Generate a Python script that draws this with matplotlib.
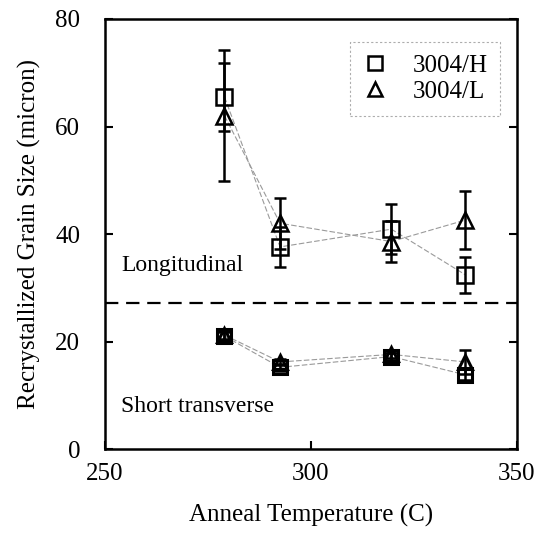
import matplotlib.pyplot as plt
import numpy as np

plt.rcParams['font.family'] = ['Liberation Serif', 'DejaVu Serif']

# anneal temperatures (C)
temps = [279, 292.5, 319.5, 337.5]

# longitudinal grain size
long_h = [65.5, 37.6, 40.9, 32.4]
long_h_err = [6.3, 3.7, 4.7, 3.3]
long_l = [62.0, 42.0, 38.6, 42.6]
long_l_err = [12.2, 4.7, 3.8, 5.4]

# short transverse grain size
short_h = [21.0, 15.2, 17.2, 13.8]
short_h_err = [0.8, 0.6, 0.6, 1.0]
short_l = [21.2, 16.2, 17.6, 16.2]
short_l_err = [0.8, 0.6, 0.6, 2.2]

divider = 27.2

fig = plt.figure(figsize=(5.51, 5.35), dpi=100)
ax = fig.add_axes([0.1906, 0.1607, 0.7476, 0.8038])

line_kw = dict(color='#9a9a9a', lw=0.8, ls=(0, (5, 2)))
err_kw = dict(fmt='none', ecolor='black', elinewidth=1.8, capsize=4, capthick=1.8)

for ys, es in [(long_h, long_h_err), (long_l, long_l_err),
               (short_h, short_h_err), (short_l, short_l_err)]:
    ax.plot(temps, ys, **line_kw, zorder=1)
    ax.errorbar(temps, ys, yerr=es, **err_kw, zorder=2)

sq_kw = dict(marker='s', ms=12, mfc='none', mec='black', mew=1.8, ls='none', zorder=3)
tr_kw = dict(marker='^', ms=12, mfc='none', mec='black', mew=1.8, ls='none', zorder=3)
ax.plot(temps, long_h, **sq_kw, label='3004/H')
ax.plot(temps, long_l, **tr_kw, label='3004/L')
ax.plot(temps, short_h, **dict(sq_kw, ms=10, mew=2.2))
ax.plot(temps, short_l, **dict(tr_kw, ms=10, mew=2.2))

ax.axhline(divider, color='black', lw=1.6, ls=(0, (6, 3.5)), zorder=0)

ax.text(254, 34.2, 'Longitudinal', fontsize=17, va='center', ha='left')
ax.text(254, 8.0, 'Short transverse', fontsize=17, va='center', ha='left')

ax.set_xlim(250, 350)
ax.set_ylim(0, 80)
ax.set_xticks([250, 300, 350])
ax.set_yticks([0, 20, 40, 60, 80])
ax.tick_params(direction='in', length=6, width=1.5, labelsize=18,
               right=True, top=False)
ax.tick_params(axis='y', pad=18)
ax.tick_params(axis='x', pad=10)
for s in ax.spines.values():
    s.set_linewidth(1.8)

ax.set_xlabel('Anneal Temperature (C)', fontsize=18, labelpad=14)
ax.set_ylabel('Recrystallized Grain Size (micron)', fontsize=18, labelpad=10)

leg = ax.legend(loc='upper right', bbox_to_anchor=(0.96, 0.947), fontsize=18,
                frameon=True, fancybox=False, handletextpad=1.0,
                borderpad=0.5, labelspacing=0.15, handlelength=1.0,
                markerscale=0.85, borderaxespad=0)
leg.get_frame().set_edgecolor('#999999')
leg.get_frame().set_linestyle((0, (2, 2)))
leg.get_frame().set_linewidth(0.8)

fig.savefig('out.png', dpi=100)
